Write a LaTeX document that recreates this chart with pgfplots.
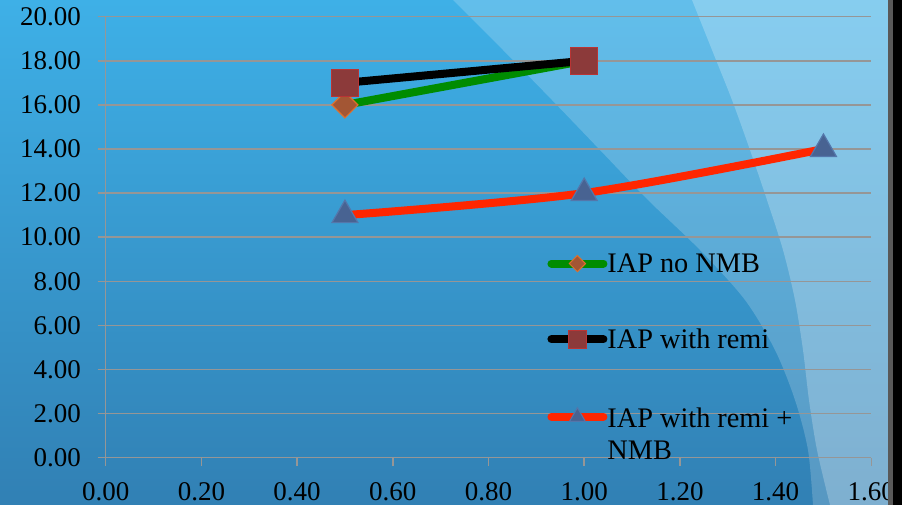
\documentclass[border=0pt]{standalone}
\usepackage{fontspec}
\setmainfont{Liberation Serif}
\usepackage{pgfplots}
\pgfplotsset{compat=1.18}

\definecolor{bgtop}{RGB}{62,176,231}
\definecolor{bgbot}{RGB}{49,128,180}
\definecolor{gridgray}{RGB}{150,150,150}
\definecolor{serA}{RGB}{0,140,0}
\definecolor{serC}{RGB}{255,38,0}
\definecolor{dmfill}{RGB}{163,86,52}
\definecolor{dmedge}{RGB}{222,112,44}
\definecolor{sqfill}{RGB}{140,58,58}
\definecolor{sqedge}{RGB}{185,52,52}
\definecolor{trfill}{RGB}{72,99,146}
\definecolor{tredge}{RGB}{84,118,170}

\newcommand{\chartfont}{\fontsize{27bp}{32bp}\selectfont}
\newcommand{\legendfont}{\fontsize{28.3bp}{32bp}\selectfont}

\begin{document}
\begin{tikzpicture}
\useasboundingbox (0bp,0bp) rectangle (902bp,505bp);
% slide background: vertical blue gradient with two lighter swooshes on the right
\begin{scope}[x=1bp,y=1bp]
  \shade[top color=bgtop, bottom color=bgbot] (0,0) rectangle (888,505);
  \fill[white, opacity=0.19] plot[smooth] coordinates {(453,505) (503,455) (552,405) (600,355) (648,305) (700,255) (745,205) (775,155) (795,105) (808,55) (813,0)} -- (888,0) -- (888,505) -- cycle;
  \fill[white, opacity=0.235] plot[smooth] coordinates {(692,505) (712,455) (732,405) (750,355) (767,305) (783,255) (795,205) (803,155) (809,105) (817,55) (830,0)} -- (888,0) -- (888,505) -- cycle;
\end{scope}

\begin{axis}[
  at={(105.7bp,47.3bp)}, anchor=south west,
  scale only axis, width=765.6bp, height=441bp,
  xmin=0, xmax=1.6, ymin=0, ymax=20,
  axis lines=left,
  axis line style={-, draw=gridgray, line width=1.5bp},
  xtick={0,0.2,0.4,0.6,0.8,1.0,1.2,1.4,1.6},
  ytick={0,2,4,6,8,10,12,14,16,18,20},
  tick align=outside, major tick length=8bp,
  tick style={draw=gridgray, line width=1.5bp},
  ymajorgrids, major grid style={draw=gridgray, line width=1.5bp},
  tick label style={font=\chartfont, text=black, inner sep=0pt},
  xticklabel style={anchor=north, yshift=-17bp},
  yticklabel style={anchor=east, xshift=-16.7bp},
  /pgf/number format/fixed,
  /pgf/number format/fixed zerofill,
  /pgf/number format/precision=2,
  /pgf/number format/assume math mode=true,
  legend style={at={(0.5767,0.4635)}, anchor=north west, draw=none, fill=none,
    inner sep=0pt, row sep=55bp, font=\legendfont,
    nodes={inner sep=0pt}},
  legend cell align=left,
  legend image code/.code={\draw[mark repeat=2, mark phase=2, #1]
      plot coordinates {(0bp,0bp) (26bp,0bp) (52bp,0bp)};},
]
% IAP no NMB
\addplot[serA, line width=8bp, line cap=round, mark=square*, mark size=9.2bp,
  mark options={rotate=45, fill=dmfill, draw=dmedge, line width=1.2bp}, forget plot]
  coordinates {(0.5,16) (1.0,18)};
% IAP with remi
\addplot[black, line width=8bp, line cap=round, mark=square*, mark size=13.5bp,
  mark options={fill=sqfill, draw=sqedge, line width=1.2bp}, forget plot]
  coordinates {(0.5,17) (1.0,18)};
% IAP with remi + NMB
\addplot[serC, line width=8bp, line cap=round, smooth, mark=triangle*, mark size=15bp,
  mark options={fill=trfill, draw=tredge, line width=1.2bp}, forget plot]
  coordinates {(0.5,11) (1.0,12) (1.5,14)};

\addlegendimage{serA, line width=8bp, line cap=round, mark=square*, mark size=5.7bp,
  mark options={rotate=45, fill=dmfill, draw=dmedge, line width=1bp}}
\addlegendentry{IAP no NMB}
\addlegendimage{black, line width=8bp, line cap=round, mark=square*, mark size=9bp,
  mark options={fill=sqfill, draw=sqedge, line width=1bp}}
\addlegendentry{IAP with remi}
\addlegendimage{serC, line width=8bp, line cap=round, mark=triangle*, mark size=9bp,
  mark options={fill=trfill, draw=tredge, line width=1bp}}
\addlegendentry{\begin{tabular}[t]{@{}l@{}}IAP with remi +\\NMB\end{tabular}}
\end{axis}

% dark frame strip at the right edge
\fill[black!65] (888bp,0bp) rectangle (893bp,505bp);
\fill[black] (893bp,0bp) rectangle (902bp,505bp);
\end{tikzpicture}
\end{document}
